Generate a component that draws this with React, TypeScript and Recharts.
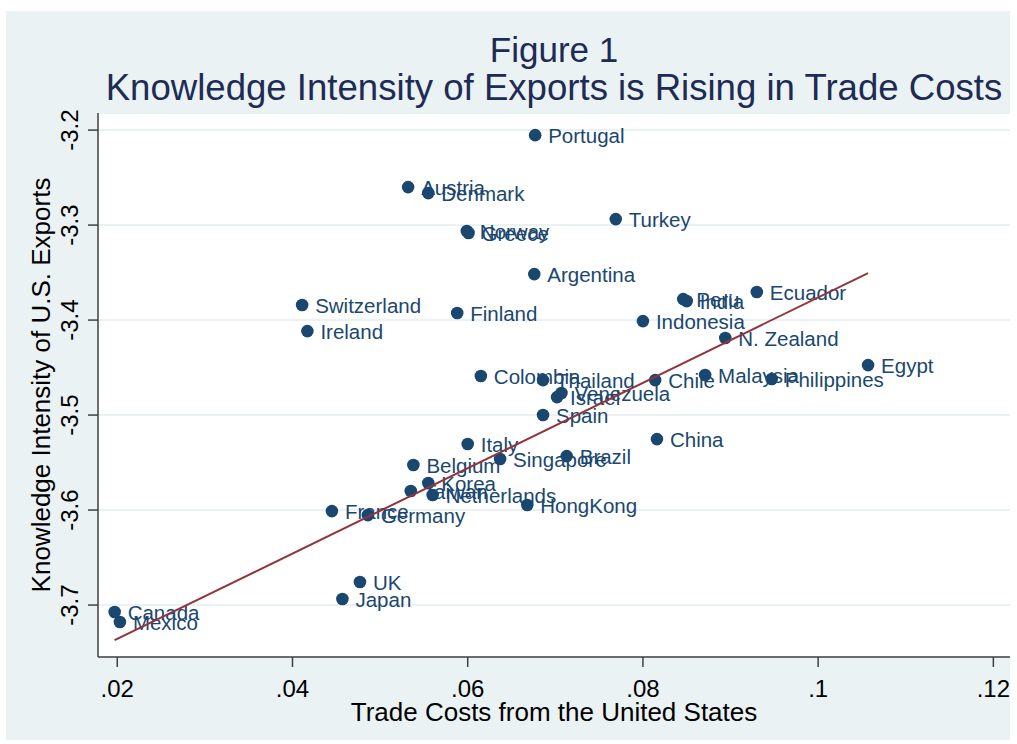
import { ScatterChart, Scatter, XAxis, YAxis, CartesianGrid } from 'recharts';

const countries = [
  'Portugal', 'Austria', 'Denmark', 'Norway', 'Greece', 'Turkey', 'Argentina',
  'Switzerland', 'Ireland', 'Finland', 'Peru', 'India', 'Ecuador', 'Indonesia',
  'N. Zealand', 'Egypt', 'Philippines', 'Malaysia', 'Chile', 'Colombia', 'Thailand',
  'Israel', 'Venezuela', 'Spain', 'China', 'Italy', 'Singapore', 'Brazil', 'Belgium',
  'Korea', 'Taiwan', 'Netherlands', 'HongKong', 'France', 'Germany', 'UK', 'Japan',
  'Canada', 'Mexico',
];
const tradeCosts = [
  0.0677, 0.0532, 0.0555, 0.0599, 0.0601, 0.0769, 0.0676,
  0.0411, 0.0417, 0.0588, 0.0846, 0.085, 0.093, 0.08,
  0.0894, 0.1057, 0.0947, 0.0871, 0.0814, 0.0615, 0.0686,
  0.0702, 0.0707, 0.0686, 0.0816, 0.06, 0.0637, 0.0713, 0.0538,
  0.0555, 0.0535, 0.056, 0.0668, 0.0445, 0.0486, 0.0477, 0.0457,
  0.0197, 0.0203,
];
const knowledge = [
  -3.2053, -3.26, -3.2663, -3.3063, -3.3084, -3.2937, -3.3516,
  -3.3842, -3.4116, -3.3926, -3.3779, -3.38, -3.3705, -3.4011,
  -3.4189, -3.4474, -3.4621, -3.4579, -3.4632, -3.4589, -3.4632,
  -3.4811, -3.4768, -3.5, -3.5253, -3.5305, -3.5463, -3.5432, -3.5526,
  -3.5716, -3.58, -3.5842, -3.5947, -3.6011, -3.6053, -3.6758, -3.6937,
  -3.7074, -3.7179,
];

// linear fit endpoints (min and max trade cost)
const fitX = [0.0197, 0.1057];
const fitY = [-3.737, -3.3505];

const xTicks = [0.02, 0.04, 0.06, 0.08, 0.1, 0.12];
const xTickLabels = ['.02', '.04', '.06', '.08', '.1', '.12'];
const yTicks = [-3.2, -3.3, -3.4, -3.5, -3.6, -3.7];

const points = countries.map((name, i) => ({ name, x: tradeCosts[i], y: knowledge[i] }));
const fit = fitX.map((x, i) => ({ x, y: fitY[i] }));

const NAVY = '#1a476f';
const FONT = '"Liberation Sans", Arial, sans-serif';

function CountryDot(props: any) {
  const { cx, cy, payload } = props;
  return (
    <g>
      <circle cx={cx} cy={cy} r={6.3} fill={NAVY} />
      <text x={cx + 13} y={cy + 7.5} fill={NAVY} fontSize={20.5} fontFamily={FONT}>
        {payload.name}
      </text>
    </g>
  );
}

function XTick(props: any) {
  const { x, y, payload } = props;
  const idx = xTicks.indexOf(payload.value);
  return (
    <text x={x} y={y + 28} textAnchor="middle" fill="#000" fontSize={24} fontFamily={FONT}>
      {idx >= 0 ? xTickLabels[idx] : payload.value}
    </text>
  );
}

function YTick(props: any) {
  const { x, y, payload } = props;
  const tx = x - 8;
  return (
    <text
      x={tx}
      y={y}
      transform={`rotate(-90, ${tx}, ${y})`}
      textAnchor="middle"
      fill="#000"
      fontSize={24}
      fontFamily={FONT}
    >
      {String(payload.value)}
    </text>
  );
}

export default function App() {
  return (
    <div style={{ position: 'absolute', left: 0, top: 0, width: 1017, height: 744, background: '#fff' }}>
      <div
        style={{ position: 'absolute', left: 6, top: 11, width: 1004, height: 729, background: '#EAF2F3' }}
      />
      <div style={{ position: 'absolute', left: 0, top: 0 }}>
        <ScatterChart width={1017} height={744} margin={{ top: 113, left: 38, right: 7, bottom: 27 }}>
          <CartesianGrid vertical={false} fill="#ffffff" stroke="#EAF2F3" strokeWidth={2} />
          <XAxis
            type="number"
            dataKey="x"
            domain={[0.0178, 0.1219]}
            ticks={xTicks}
            allowDataOverflow
            height={60}
            tickSize={10}
            tick={<XTick />}
            stroke="#404040"
            strokeWidth={1.5}
          />
          <YAxis
            type="number"
            dataKey="y"
            domain={[-3.7547, -3.182]}
            ticks={yTicks}
            allowDataOverflow
            width={60}
            tickSize={10}
            tick={<YTick />}
            stroke="#404040"
            strokeWidth={1.5}
          />
          <Scatter data={points} shape={<CountryDot />} isAnimationActive={false} />
          <Scatter
            data={fit}
            shape={() => <g />}
            line={{ stroke: '#90353b', strokeWidth: 2 }}
            lineType="joint"
            isAnimationActive={false}
          />
        </ScatterChart>
      </div>
      <svg
        width={1017}
        height={744}
        style={{ position: 'absolute', left: 0, top: 0, pointerEvents: 'none' }}
        fontFamily={FONT}
      >
        <text x={554} y={62} textAnchor="middle" fontSize={35} fill="#1e2b55">
          Figure 1
        </text>
        <text x={554} y={100} textAnchor="middle" fontSize={36.6} fill="#1e2b55">
          Knowledge Intensity of Exports is Rising in Trade Costs
        </text>
        <text x={554} y={721} textAnchor="middle" fontSize={26} fill="#000">
          Trade Costs from the United States
        </text>
        <text
          x={50}
          y={385}
          transform="rotate(-90, 50, 385)"
          textAnchor="middle"
          fontSize={26}
          fill="#000"
        >
          Knowledge Intensity of U.S. Exports
        </text>
      </svg>
    </div>
  );
}
